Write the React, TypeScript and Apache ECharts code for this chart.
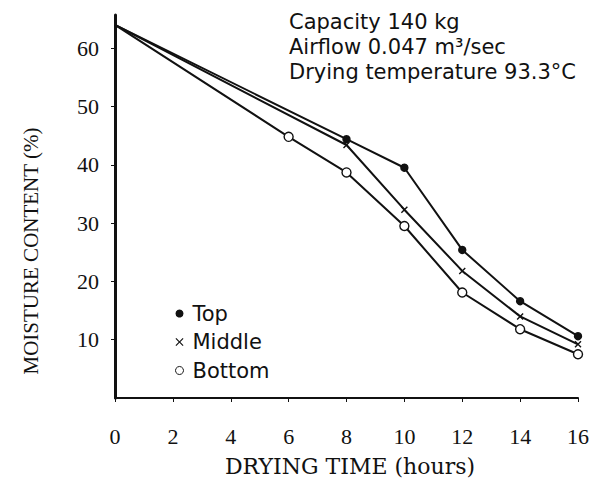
import React, { useEffect, useRef } from "react";
import * as echarts from "echarts";

const hours = [0, 2, 4, 6, 8, 10, 12, 14, 16];
const topSeries: [number, number][] = [[0, 64], [8, 44.4], [10, 39.5], [12, 25.4], [14, 16.6], [16, 10.6]];
const middleSeries: [number, number][] = [[0, 64], [8, 43.4], [10, 32.3], [12, 21.8], [14, 14.0], [16, 9.2]];
const bottomSeries: [number, number][] = [[0, 64], [6, 44.8], [8, 38.7], [10, 29.5], [12, 18.1], [14, 11.8], [16, 7.5]];
const yTicks = [10, 20, 30, 40, 50, 60];
const noteLines = ["Capacity 140 kg", "Airflow 0.047 m³/sec", "Drying temperature 93.3°C"];
const xName = "DRYING TIME (hours)";
const yName = "MOISTURE CONTENT (%)";

const xPath = "path://M0,0L10,10M10,0L0,10";
const crossPath = "path://M1,0L5,4L9,0L10,1L6,5L10,9L9,10L5,6L1,10L0,9L4,5L0,1Z";

export default function App() {
  const ref = useRef<HTMLDivElement>(null);
  useEffect(() => {
    document.body.style.margin = "0";
    const chart = echarts.init(ref.current!, null, { renderer: "svg" });
    const serif = "Liberation Serif";
    const sans = "DejaVu Sans";
    const mk = (name: string, data: [number, number][], symbol: string, size: number, fill: string) => ({
      name,
      type: "line",
      data: data.map((d, i) => ({ value: d, symbol: i === 0 ? "none" : symbol })),
      symbol,
      symbolSize: size,
      showAllSymbol: true,
      lineStyle: { color: "#111", width: 2 },
      itemStyle: { color: fill, borderColor: "#111", borderWidth: 1.4 },
      emphasis: { disabled: true },
    });
    chart.setOption({
      animation: false,
      backgroundColor: "#fff",
      grid: { left: 115, right: 17, top: 15, bottom: 82 },
      xAxis: {
        type: "value",
        min: 0,
        max: 16,
        interval: 2,
        axisLine: { lineStyle: { color: "#111", width: 2 } },
        axisTick: { show: true, length: 4, inside: false, lineStyle: { color: "#111" }, customValues: hours },
        axisLabel: { fontFamily: serif, fontSize: 22, color: "#111", margin: 27, customValues: hours },
        splitLine: { show: false },
      },
      yAxis: {
        type: "value",
        min: 0,
        max: 65.7,
        interval: 10,
        axisLine: { show: true, lineStyle: { color: "#111", width: 3 } },
        axisTick: { show: true, length: 4, lineStyle: { color: "#111" }, customValues: yTicks },
        axisLabel: { fontFamily: serif, fontSize: 22, color: "#111", margin: 16, customValues: yTicks },
        splitLine: { show: false },
      },
      legend: {
        orient: "vertical",
        left: 170,
        top: 298,
        itemWidth: 8,
        itemHeight: 8,
        itemGap: 7.5,
        textStyle: { fontFamily: sans, fontSize: 21, color: "#111", padding: [0, 0, 0, 4] },
        data: [
          { name: "Top", icon: "circle", itemStyle: { color: "#111", borderWidth: 0 } },
          { name: "Middle", icon: crossPath, itemStyle: { color: "#111", borderWidth: 0 } },
          { name: "Bottom", icon: "circle", itemStyle: { color: "#fff", borderColor: "#111", borderWidth: 1 } },
        ],
      },
      series: [
        mk("Top", topSeries, "circle", 7, "#111"),
        mk("Middle", middleSeries, xPath, 6, "#111"),
        mk("Bottom", bottomSeries, "circle", 9, "#fff"),
      ],
      graphic: [
        ...noteLines.map((t, i) => ({
          type: "text",
          x: 289,
          y: 22 + i * 25,
          style: { text: t, fontFamily: sans, fontSize: 21, fill: "#111", verticalAlign: "middle", align: "left" },
        })),
        {
          type: "text",
          x: 350,
          y: 466,
          style: { text: xName, fontFamily: "DejaVu Serif", fontSize: 22, fill: "#111", align: "center", verticalAlign: "middle" },
        },
        {
          type: "text",
          x: 31,
          y: 251,
          rotation: Math.PI / 2,
          style: { text: yName, fontFamily: serif, fontSize: 21, fill: "#111", align: "center", verticalAlign: "middle" },
        },
      ],
    });
    return () => chart.dispose();
  }, []);
  return <div ref={ref} style={{ width: 595, height: 480 }} />;
}
